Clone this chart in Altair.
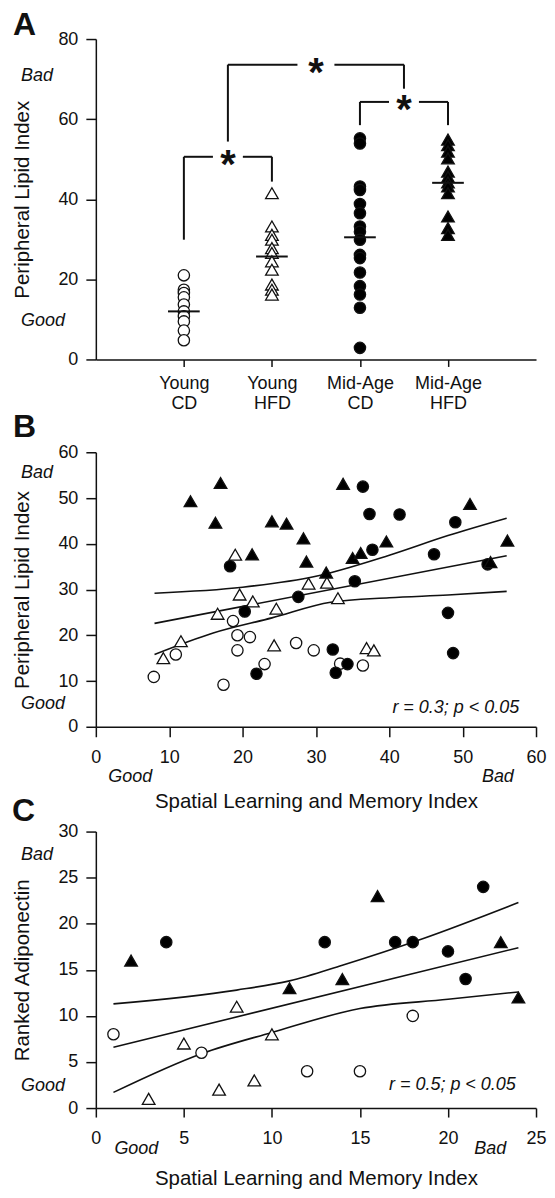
import json
import altair as alt
import pandas as pd

FONT = "Liberation Sans"
INK = "#111111"

# ---------------- shared group styling ----------------
group_names = ["Young CD", "Young HFD", "Mid-Age CD", "Mid-Age HFD"]
label_line1 = ["Young", "Young", "Mid-Age", "Mid-Age"]
label_line2 = ["CD", "HFD", "CD", "HFD"]
group_shapes = ["circle", "triangle-up", "circle", "triangle-up"]
group_fills = ["white", "white", "black", "black"]
group_sizes = [128, 160, 128, 160]

# ---------------- Panel A data ----------------
a_young_cd = [21.0, 17.4, 16.6, 15.5, 13.7, 12.0, 10.8, 9.5, 7.2, 4.8]
a_young_hfd = [41.5, 33.2, 31.1, 29.9, 27.8, 26.6, 24.5, 22.4, 18.7, 17.4, 16.2]
a_mid_cd = [55.2, 53.9, 43.2, 42.3, 38.8, 36.5, 33.2, 31.9, 29.9, 26.1, 25.3,
            21.7, 18.3, 16.2, 12.9, 2.9]
a_mid_hfd = [54.9, 53.5, 51.9, 50.2, 46.9, 45.6, 44.2, 43.2, 41.5, 35.7, 32.8, 31.1]
a_means = [12.0, 25.7, 30.5, 44.1]

br_left = [1, 1.5, 3]
br_right = [2, 3.5, 4]
br_top = [50.6, 73.6, 64.3]
br_left_low = [29.9, 54.4, 58.5]
br_right_low = [44.4, 67.6, 58.5]
br_star = [1.5, 2.5, 3.5]
br_gap = [0.17, 0.21, 0.17]

# ---------------- Panel B data ----------------
b_ycd_x = [7.9, 10.9, 17.4, 18.7, 19.3, 19.3, 21.0, 23.0, 27.3, 29.7, 33.3, 36.4]
b_ycd_y = [10.9, 15.8, 9.2, 23.1, 20.0, 16.7, 19.6, 13.7, 18.3, 16.7, 13.8, 13.4]
b_yhfd_x = [9.2, 11.6, 16.6, 19.0, 19.6, 21.4, 24.6, 24.3, 29.0, 31.5, 33.0, 36.9, 37.9]
b_yhfd_y = [15.0, 18.7, 24.7, 37.6, 28.9, 27.4, 25.8, 17.8, 31.3, 31.5, 28.1, 17.2, 16.7]
b_mcd_x = [18.3, 20.3, 21.9, 27.6, 32.3, 32.7, 34.3, 35.3, 36.4, 37.3, 37.7, 41.4,
           46.1, 48.0, 49.0, 48.7, 53.4]
b_mcd_y = [35.1, 25.2, 11.6, 28.4, 16.9, 11.8, 13.7, 31.8, 52.5, 46.5, 38.7, 46.4,
           37.7, 24.9, 44.7, 16.1, 35.5]
b_mhfd_x = [12.9, 17.0, 16.3, 21.3, 24.0, 26.0, 28.3, 28.7, 31.4, 33.7, 35.0, 36.1,
            39.6, 51.0, 56.1, 53.8]
b_mhfd_y = [49.3, 53.3, 44.6, 37.7, 44.9, 44.4, 41.2, 36.1, 33.7, 53.1, 36.9, 38.0,
            40.5, 48.7, 40.7, 36.0]

b_fit_x = [8, 56]
b_fit_y = [22.6, 37.4]
b_upper_x = [8, 20, 30, 40, 48, 56]
b_upper_y = [29.2, 30.5, 32.9, 37.5, 41.8, 45.6]
b_lower_x = [8, 16, 24, 32, 40, 48, 56]
b_lower_y = [15.8, 20.5, 23.8, 27.2, 28.2, 28.8, 29.6]

# ---------------- Panel C data ----------------
c_ycd_x = [1, 6, 12, 15, 18]
c_ycd_y = [8, 6, 4, 4, 10]
c_yhfd_x = [3, 5, 7, 8, 9, 10]
c_yhfd_y = [1, 7, 2, 11, 3, 8]
c_mcd_x = [4, 13, 17, 18, 20, 21, 22]
c_mcd_y = [18, 18, 18, 18, 17, 14, 24]
c_mhfd_x = [2, 11, 14, 16, 23, 24]
c_mhfd_y = [16, 13, 14, 23, 18, 12]

c_fit_x = [1, 24]
c_fit_y = [6.6, 17.4]
c_upper_x = [1, 8, 11, 14, 18.6, 24]
c_upper_y = [11.3, 12.8, 13.8, 15.5, 18.4, 22.3]
c_lower_x = [1, 6, 10, 15, 20, 24]
c_lower_y = [1.7, 5.9, 8.2, 10.8, 11.8, 12.6]

stat_text = "r = 0.3; p < 0.05"
stat_text_c = "r = 0.5; p < 0.05"

# ---------------- helpers ----------------
size_of = dict(zip(group_names, group_sizes))
shape_enc = alt.Shape("group:N", scale=alt.Scale(domain=group_names, range=group_shapes), legend=None)
fill_enc = alt.Fill("group:N", scale=alt.Scale(domain=group_names, range=group_fills), legend=None)


def points_df(xs_list, ys_list):
    rows = []
    for g, xs, ys in zip(group_names, xs_list, ys_list):
        for x, y in zip(xs, ys):
            rows.append({"group": g, "x": x, "y": y, "sz": size_of[g]})
    return pd.DataFrame(rows)


def lines_df(parts):
    rows = []
    for name, xs, ys in parts:
        for x, y in zip(xs, ys):
            rows.append({"line": name, "x": x, "y": y})
    return pd.DataFrame(rows)


def point_layer(df, X, Y):
    return alt.Chart(df).mark_point(filled=True, stroke=INK, strokeWidth=1.3, opacity=1).encode(
        x=X, y=Y, shape=shape_enc, fill=fill_enc, size=alt.Size("sz:Q", scale=None)
    )


def text_mark(**kw):
    base = dict(font=FONT, color=INK, fontSize=18)
    base.update(kw)
    return base


def letter(t, xp, yp):
    return alt.Chart(pd.DataFrame({"t": [t]})).mark_text(
        **text_mark(fontSize=32, fontWeight="bold", align="left", baseline="top")
    ).encode(text="t:N", x=alt.value(xp), y=alt.value(yp))


def y_quality(Y, vals):
    return alt.Chart(pd.DataFrame({"t": ["Bad", "Good"], "y": vals})).mark_text(
        **text_mark(fontStyle="italic", align="left", baseline="middle")
    ).encode(text="t:N", y=Y, x=alt.value(-75))


def x_quality(X, vals, yp):
    return alt.Chart(pd.DataFrame({"t": ["Good", "Bad"], "x": vals})).mark_text(
        **text_mark(fontStyle="italic", align="center", baseline="middle")
    ).encode(text="t:N", x=X, y=alt.value(yp))


axis_common = dict(grid=False, labelFlush=False, labelOverlap=False, domainColor=INK,
                   tickColor=INK, domainWidth=1.5, tickWidth=1.5)

W = 441

# ---------------- Panel A ----------------
label_expr = " : ".join(
    f"datum.value == {i + 1} ? {json.dumps([l1, l2])}"
    for i, (l1, l2) in enumerate(zip(label_line1, label_line2))
) + " : ''"

HA = 321
xA_axis = alt.Axis(values=[1, 2, 3, 4], labelExpr=label_expr, tickSize=7, labelPadding=8,
                   labelLineHeight=20, labelAngle=0, labelAlign="center", labelBaseline="top",
                   title=None, **axis_common)
yA_axis = alt.Axis(values=[0, 20, 40, 60, 80], tickSize=10, labelPadding=8,
                   title="Peripheral Lipid Index", titleX=-67, titleBaseline="alphabetic",
                   **axis_common)
xA_scale = alt.Scale(domain=[0, 5], nice=False)
yA_scale = alt.Scale(domain=[0, 80], nice=False)

a_rows = []
for i, (g, vals) in enumerate(zip(group_names, [a_young_cd, a_young_hfd, a_mid_cd, a_mid_hfd])):
    for v in vals:
        a_rows.append({"group": g, "x": i + 1, "y": v, "sz": size_of[g]})
a_df = pd.DataFrame(a_rows)

XA = alt.X("x:Q", scale=xA_scale, axis=xA_axis)
YA = alt.Y("y:Q", scale=yA_scale, axis=yA_axis)

a_points = point_layer(a_df, XA, YA)

mean_df = pd.DataFrame({"x": [i + 1 - 0.18 for i in range(4)],
                        "x2": [i + 1 + 0.18 for i in range(4)],
                        "y": a_means})
a_means_layer = alt.Chart(mean_df).mark_rule(color=INK, strokeWidth=2).encode(
    x=XA, x2="x2:Q", y=YA)

seg_rows = []
for xl, xr, top, lo_l, lo_r, s, gap in zip(br_left, br_right, br_top, br_left_low,
                                           br_right_low, br_star, br_gap):
    seg_rows.append({"x": xl, "x2": xl, "y": lo_l, "y2": top})
    seg_rows.append({"x": xr, "x2": xr, "y": lo_r, "y2": top})
    seg_rows.append({"x": xl, "x2": s - gap, "y": top, "y2": top})
    seg_rows.append({"x": s + gap, "x2": xr, "y": top, "y2": top})
a_brackets = alt.Chart(pd.DataFrame(seg_rows)).mark_rule(color=INK, strokeWidth=2).encode(
    x=XA, x2="x2:Q", y=YA, y2="y2:Q")

a_stars = alt.Chart(pd.DataFrame({"x": br_star, "y": br_top, "t": ["*"] * 3})).mark_text(
    **text_mark(fontSize=40, fontWeight="bold", align="center", baseline="alphabetic", dy=21)
).encode(x=XA, y=YA, text="t:N")

panel_a = alt.layer(
    a_points, a_means_layer, a_brackets, a_stars,
    y_quality(YA, [70.8, 9.7]),
    letter("A", -83, -29),
).properties(width=W, height=HA)

# ---------------- Panel B ----------------
HB = 275
xB_axis = alt.Axis(values=list(range(0, 61, 10)), tickSize=10, labelPadding=12,
                   title="Spatial Learning and Memory Index", titleY=81,
                   titleBaseline="alphabetic", **axis_common)
yB_axis = alt.Axis(values=list(range(0, 61, 10)), tickSize=10, labelPadding=8,
                   title="Peripheral Lipid Index", titleX=-67, titleBaseline="alphabetic",
                   **axis_common)
XB = alt.X("x:Q", scale=alt.Scale(domain=[0, 60], nice=False), axis=xB_axis)
YB = alt.Y("y:Q", scale=alt.Scale(domain=[0, 60], nice=False), axis=yB_axis)

b_df = points_df([b_ycd_x, b_yhfd_x, b_mcd_x, b_mhfd_x], [b_ycd_y, b_yhfd_y, b_mcd_y, b_mhfd_y])
b_lines = alt.Chart(lines_df([("fit", b_fit_x, b_fit_y), ("upper", b_upper_x, b_upper_y),
                              ("lower", b_lower_x, b_lower_y)])).mark_line(
    color=INK, strokeWidth=1.6, interpolate="monotone").encode(x=XB, y=YB, detail="line:N")

b_stat = alt.Chart(pd.DataFrame({"t": [stat_text], "x": [57.7], "y": [4.2]})).mark_text(
    **text_mark(fontStyle="italic", align="right", baseline="middle")
).encode(text="t:N", x=XB, y=YB)

panel_b = alt.layer(
    b_lines, point_layer(b_df, XB, YB), b_stat,
    y_quality(YB, [55.5, 4.9]),
    x_quality(XB, [4.7, 54.8], HB + 50),
    letter("B", -83, -40),
).properties(width=W, height=HB)

# ---------------- Panel C ----------------
HC, TOPC = 289, 12
xC_axis = alt.Axis(values=list(range(0, 26, 5)), tickSize=9, labelPadding=13,
                   title="Spatial Learning and Memory Index", titleY=77,
                   titleBaseline="alphabetic", **axis_common)
yC_axis = alt.Axis(values=list(range(0, 31, 5)), tickSize=10, labelPadding=8,
                   title="Ranked Adiponectin", titleX=-67, titleY=(HC + TOPC) / 2,
                   titleBaseline="alphabetic", **axis_common)
XC = alt.X("x:Q", scale=alt.Scale(domain=[0, 25], nice=False), axis=xC_axis)
YC = alt.Y("y:Q", scale=alt.Scale(domain=[0, 30], nice=False, range=[HC, TOPC]), axis=yC_axis)

c_df = points_df([c_ycd_x, c_yhfd_x, c_mcd_x, c_mhfd_x], [c_ycd_y, c_yhfd_y, c_mcd_y, c_mhfd_y])
c_lines = alt.Chart(lines_df([("fit", c_fit_x, c_fit_y), ("upper", c_upper_x, c_upper_y),
                              ("lower", c_lower_x, c_lower_y)])).mark_line(
    color=INK, strokeWidth=1.6, interpolate="monotone").encode(x=XC, y=YC, detail="line:N")

c_stat = alt.Chart(pd.DataFrame({"t": [stat_text_c], "x": [23.85], "y": [2.5]})).mark_text(
    **text_mark(fontStyle="italic", align="right", baseline="middle")
).encode(text="t:N", x=XC, y=YC)

panel_c = alt.layer(
    c_lines, point_layer(c_df, XC, YC), c_stat,
    y_quality(YC, [27.5, 2.4]),
    x_quality(XC, [2.3, 22.4], HC + 41),
    letter("C", -84, TOPC - 36),
).properties(width=W, height=HC)

chart = alt.vconcat(panel_a, panel_b, panel_c, spacing=93, bounds="flush").properties(
    padding={"left": 4, "top": 0, "right": 0, "bottom": 0}
).configure_view(stroke=None).configure_axis(
    labelFont=FONT, titleFont=FONT, labelFontSize=18, titleFontSize=20.5,
    titleFontWeight="normal", labelColor=INK, titleColor=INK
)

chart.save("out.html", embed_options={"renderer": "svg", "actions": False})
